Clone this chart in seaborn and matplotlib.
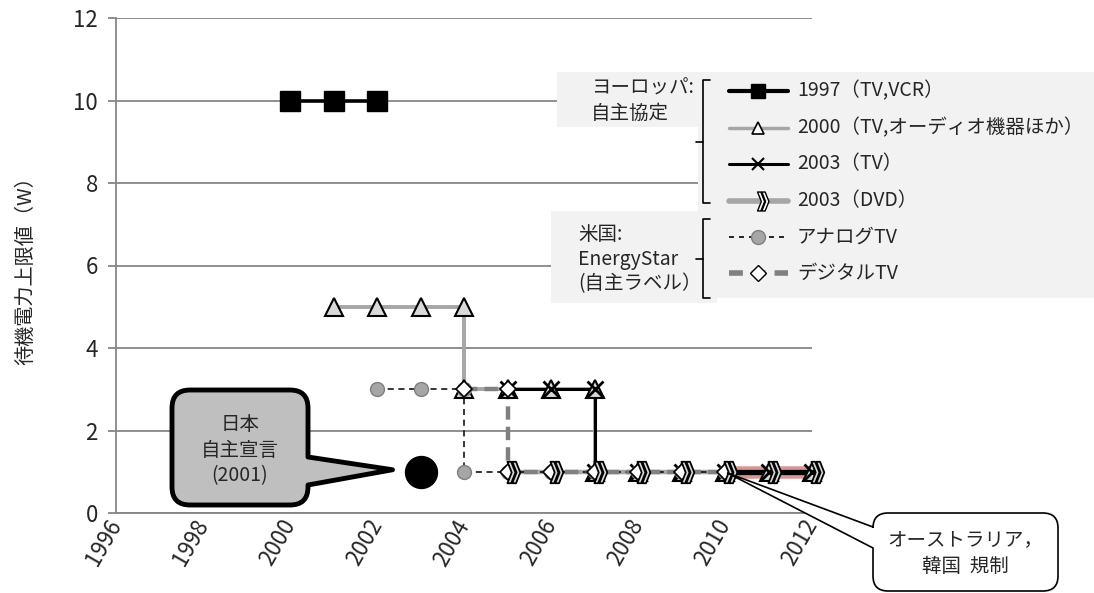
import numpy as np
import pandas as pd
import matplotlib
import matplotlib.pyplot as plt
import seaborn as sns
from matplotlib.path import Path
from matplotlib.patches import PathPatch, Rectangle
from matplotlib.lines import Line2D

matplotlib.use('Agg')

W, H = 1094, 593

# --- data ---
eu_1997_year = [2000, 2001, 2002]
eu_1997_w = [10, 10, 10]
eu_2000_year = [2001, 2002, 2003, 2004, 2004, 2005, 2006, 2007, 2007, 2008, 2009, 2010, 2011, 2012]
eu_2000_w = [5, 5, 5, 5, 3, 3, 3, 3, 1, 1, 1, 1, 1, 1]
eu_tv_year = [2005, 2006, 2007, 2007, 2008, 2009, 2010, 2011, 2012]
eu_tv_w = [3, 3, 3, 1, 1, 1, 1, 1, 1]
eu_dvd_year = [2005, 2006, 2007, 2008, 2009, 2010, 2011, 2012]
eu_dvd_w = [1, 1, 1, 1, 1, 1, 1, 1]
us_analog_year = [2002, 2003, 2004, 2004, 2005, 2006, 2007, 2008, 2009, 2010]
us_analog_w = [3, 3, 3, 1, 1, 1, 1, 1, 1, 1]
us_digital_year = [2004, 2005, 2005, 2006, 2007, 2008, 2009, 2010]
us_digital_w = [3, 3, 1, 1, 1, 1, 1, 1]
jp_year = [2003]
jp_w = [1]
aukr_year = [2010, 2011, 2012]
aukr_w = [1, 1, 1]

x_ticks = [1996, 1998, 2000, 2002, 2004, 2006, 2008, 2010, 2012]
y_ticks = [0, 2, 4, 6, 8, 10, 12]

legend_labels = ['1997（TV,VCR）', '2000（TV,オーディオ機器ほか）', '2003（TV）',
                 '2003（DVD）', 'アナログTV', 'デジタルTV']

sns.set_style('white')
plt.rcParams['font.family'] = ['Noto Sans CJK JP', 'DejaVu Sans']

# double chevron marker like 》
chev = Path([(-0.1, 1), (0.25, 1), (0.65, 0), (0.25, -1), (-0.1, -1), (0.3, 0), (-0.1, 1),
             (0.35, 1), (0.7, 1), (1.1, 0), (0.7, -1), (0.35, -1), (0.75, 0), (0.35, 1)],
            [Path.MOVETO] + [Path.LINETO] * 5 + [Path.CLOSEPOLY] +
            [Path.MOVETO] + [Path.LINETO] * 5 + [Path.CLOSEPOLY])

fig = plt.figure(figsize=(W / 100, H / 100), dpi=100)
ax = fig.add_axes([116 / W, 1 - 513 / H, (812 - 116) / W, (513 - 18) / H])


def draw(x, y, z, **kw):
    df = pd.DataFrame({'year': x, 'w': y})
    sns.lineplot(data=df, x='year', y='w', estimator=None, sort=False, ax=ax,
                 zorder=z, clip_on=False, legend=False, **kw)


# lines
draw(eu_1997_year, eu_1997_w, 3.0, color='black', lw=2.6)
draw(eu_2000_year, eu_2000_w, 3.1, color='#a6a6a6', lw=2.8)
draw(eu_tv_year, eu_tv_w, 3.2, color='black', lw=2.2)
draw(eu_dvd_year, eu_dvd_w, 3.3, color='#a6a6a6', lw=3.2)
draw(us_analog_year, us_analog_w, 3.4, color='black', lw=1.1, linestyle=(0, (4, 3)))
draw(us_digital_year, us_digital_w, 3.5, color='#808080', lw=3.2, linestyle=(0, (3, 1.6)))
draw(aukr_year, aukr_w, 3.6, color='#d99694', lw=9, solid_capstyle='round')
draw(aukr_year, aukr_w, 3.7, color='black', lw=3.8)

# markers
draw(eu_2000_year, eu_2000_w, 4.0, linestyle='none', marker='^', ms=13,
     markerfacecolor='#d9d9d9', markeredgecolor='black', markeredgewidth=1.5)
draw(eu_tv_year, eu_tv_w, 4.1, linestyle='none', marker='x', ms=12,
     markeredgecolor='black', markeredgewidth=2)
draw(us_analog_year, us_analog_w, 4.2, linestyle='none', marker='o', ms=10,
     markerfacecolor='#a6a6a6', markeredgecolor='#7f7f7f', markeredgewidth=1)
draw(us_digital_year, us_digital_w, 4.3, linestyle='none', marker='D', ms=8,
     markerfacecolor='white', markeredgecolor='black', markeredgewidth=1.2)
draw(eu_dvd_year, eu_dvd_w, 4.4, linestyle='none', marker=chev, ms=17,
     markerfacecolor='#d9d9d9', markeredgecolor='black', markeredgewidth=1.3)
draw(eu_1997_year, eu_1997_w, 4.5, linestyle='none', marker='s', ms=15,
     markerfacecolor='black', markeredgecolor='black', markeredgewidth=1)
draw(jp_year, jp_w, 4.6, linestyle='none', marker='o', ms=23,
     markerfacecolor='black', markeredgecolor='black', markeredgewidth=1)

ax.set_xlim(1996, 2012)
ax.set_ylim(0, 12)
ax.set_xticks(x_ticks)
ax.set_yticks(y_ticks)
ax.set_xlabel('')
ax.set_ylabel('待機電力上限値（W）', fontsize=14.5)
ax.yaxis.set_label_coords(-0.115, 0.5)
ax.yaxis.grid(True, color='#868686', lw=1.3)
ax.xaxis.grid(False)
ax.set_axisbelow(True)
for s in ['top', 'right']:
    ax.spines[s].set_visible(False)
for s in ['left', 'bottom']:
    ax.spines[s].set_color('#868686')
    ax.spines[s].set_linewidth(1.3)
ax.tick_params(axis='y', length=6, width=1.3, color='#868686', labelsize=16, pad=7, left=True)
ax.tick_params(axis='x', length=0, labelsize=16, pad=6)
for lab in ax.get_xticklabels():
    lab.set_rotation(60)
    lab.set_ha('right')
    lab.set_va('center')
    lab.set_rotation_mode('anchor')

tr = fig.dpi_scale_trans


def px(x, y):
    return (x / 100, (H - y) / 100)


# legend panel
for x0, y0, x1, y1 in [(698, 72, W, 298), (557, 72, 699, 127), (551, 211, 717, 303)]:
    fig.add_artist(Rectangle(px(x0, y1), (x1 - x0) / 100, (y1 - y0) / 100,
                             transform=tr, fc='#f2f2f2', ec='none', zorder=1))

rows_y = [91, 128, 164, 201, 237, 273]
leg_styles = [
    (dict(color='black', lw=3), dict(marker='s', ms=10, mfc='black', mec='black')),
    (dict(color='#a6a6a6', lw=2.5), dict(marker='^', ms=9, mfc='white', mec='black', mew=1.2)),
    (dict(color='black', lw=2.2), dict(marker='x', ms=9, mec='black', mew=1.5)),
    (dict(color='#a6a6a6', lw=4), dict(marker=chev, ms=15, mfc='white', mec='black', mew=1)),
    (dict(color='black', lw=1.2, ls=(0, (3, 3))), dict(marker='o', ms=10, mfc='#a6a6a6', mec='#7f7f7f')),
    (dict(color='#808080', lw=4, ls=(0, (2.5, 1.6))), dict(marker='D', ms=8, mfc='white', mec='black')),
]
for y, lab, (lst, mst) in zip(rows_y, legend_labels, leg_styles):
    (a, b), (c, d) = px(729, y), px(788, y)
    fig.add_artist(Line2D([a, c], [b, d], transform=tr, zorder=2, **lst))
    m = px(758, y)
    fig.add_artist(Line2D([m[0]], [m[1]], transform=tr, zorder=3, ls='none', **mst))
    t = px(797, y)
    fig.text(t[0], t[1], lab, transform=tr, fontsize=14, va='center', ha='left', zorder=3)

# group labels and brackets
t = px(591, 101)
fig.text(t[0], t[1], 'ヨーロッパ:\n自主協定', transform=tr, fontsize=14, va='center',
         ha='left', linespacing=1.25, zorder=3)
t = px(578, 259)
fig.text(t[0], t[1], '米国:\nEnergyStar\n(自主ラベル）', transform=tr, fontsize=14, va='center',
         ha='left', linespacing=1.2, zorder=3)
for top, bot in [(80, 203), (219, 298)]:
    pts = [px(710, top), px(703, top), px(703, bot), px(710, bot)]
    fig.add_artist(Line2D([p[0] for p in pts], [p[1] for p in pts], transform=tr,
                          color='black', lw=1.2, zorder=3))
    mid = (top + bot) / 2
    pts = [px(696, mid), px(703, mid)]
    fig.add_artist(Line2D([p[0] for p in pts], [p[1] for p in pts], transform=tr,
                          color='black', lw=1.2, zorder=3))


def callout(x0, y0, x1, y1, r, side, b0, b1, tip):
    v = [(x0 + r, y0), (x1 - r, y0), (x1, y0), (x1, y0 + r)]
    c = [Path.MOVETO, Path.LINETO, Path.CURVE3, Path.CURVE3]
    if side == 'right':
        v += [(x1, b0), tip, (x1, b1)]
        c += [Path.LINETO] * 3
    v += [(x1, y1 - r), (x1, y1), (x1 - r, y1), (x0 + r, y1), (x0, y1), (x0, y1 - r)]
    c += [Path.LINETO, Path.CURVE3, Path.CURVE3, Path.LINETO, Path.CURVE3, Path.CURVE3]
    if side == 'left':
        v += [(x0, b1), tip, (x0, b0)]
        c += [Path.LINETO] * 3
    v += [(x0, y0 + r), (x0, y0), (x0 + r, y0), (x0 + r, y0)]
    c += [Path.LINETO, Path.CURVE3, Path.CURVE3, Path.CLOSEPOLY]
    return Path([px(*p) for p in v], c)


def data_px(x, y):
    d = ax.transData.transform((x, y))
    return d[0], H - d[1]


jx, jy = data_px(jp_year[0], jp_w[0])
fig.add_artist(PathPatch(callout(172, 390, 308, 505, 18, 'right', 457, 485, (jx - 28, jy - 2)),
                         transform=tr, fc='#bfbfbf', ec='black', lw=3.5, joinstyle='round', zorder=5))
t = px(240, 450)
fig.text(t[0], t[1], '日本\n自主宣言\n(2001)', transform=tr, fontsize=14, ha='center',
         va='center', linespacing=1.3, zorder=6)

ax_, ay_ = data_px(aukr_year[0], aukr_w[0])
fig.add_artist(PathPatch(callout(873, 513, 1058, 591, 15, 'left', 527, 548, (ax_ + 2, ay_ + 1)),
                         transform=tr, fc='white', ec='black', lw=1.2, zorder=5))
t = px(965, 553)
fig.text(t[0], t[1], 'オーストラリア，\n韓国  規制', transform=tr, fontsize=14, ha='center',
         va='center', linespacing=1.35, zorder=6)

fig.savefig('out.png', dpi=100)
